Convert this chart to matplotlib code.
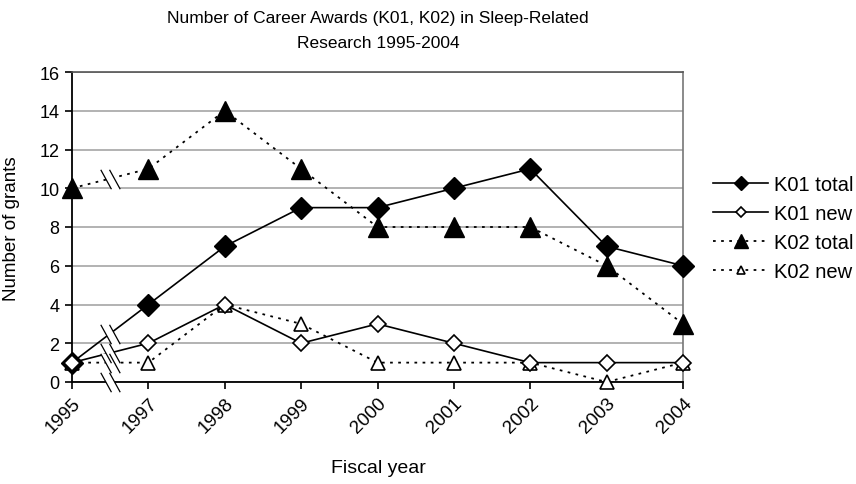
import numpy as np
import matplotlib
matplotlib.use("Agg")
import matplotlib.pyplot as plt
from matplotlib.path import Path

plt.rcParams['font.family'] = ['Liberation Sans', 'DejaVu Sans']

years = ['1995', '1997', '1998', '1999', '2000', '2001', '2002', '2003', '2004']
k01_total = [1, 4, 7, 9, 9, 10, 11, 7, 6]
k01_new = [1, 2, 4, 2, 3, 2, 1, 1, 1]
k02_total = [10, 11, 14, 11, 8, 8, 8, 6, 3]
k02_new = [1, 1, 4, 3, 1, 1, 1, 0, 1]

x = np.arange(len(years))

fig = plt.figure(figsize=(8.56, 4.85), dpi=100)
ax = fig.add_axes([72/856, 1 - 383/485, (683 - 72)/856, (383 - 73)/485])

dot = (0, (1.5, 3))
ax.plot(x, k02_total, linestyle=dot, color='black', lw=1.3, marker='^', ms=14.5,
        mfc='black', mec='black', clip_on=False, zorder=3, label='K02 total')
ax.plot(x, k02_new, linestyle=dot, color='black', lw=1.3, marker='^', ms=9.5,
        mfc='white', mec='black', mew=1.2, clip_on=False, zorder=3, label='K02 new')
ax.plot(x, k01_total, linestyle='-', color='black', lw=1.2, marker='D', ms=11.5,
        mfc='black', mec='black', clip_on=False, zorder=4, label='K01 total')
ax.plot(x, k01_new, linestyle='-', color='black', lw=1.2, marker='D', ms=8.5,
        mfc='white', mec='black', mew=1.2, clip_on=False, zorder=4, label='K01 new')

# break marks between 1995 and 1997 (1996 missing)
slash = Path([(-0.5, 0.5), (0.05, -0.5), (-0.05, 0.5), (0.5, -0.5)],
             [Path.MOVETO, Path.LINETO, Path.MOVETO, Path.LINETO])
gap = Path([(-0.5, 0.5), (0.05, -0.5), (0.5, -0.5), (-0.05, 0.5), (-0.5, 0.5)],
           [Path.MOVETO, Path.LINETO, Path.LINETO, Path.LINETO, Path.CLOSEPOLY])
for s in [k01_total, k01_new, k02_total, k02_new]:
    ym = (s[0] + s[1]) / 2
    ax.plot([0.5], [ym], marker=gap, ms=14, mfc='white', mec='none', ls='none', zorder=5)
    ax.plot([0.5], [ym], marker=slash, ms=14, mec='black', mew=0.9, ls='none', zorder=6)
ax.plot([0.5], [0], marker=gap, ms=14, mfc='white', mec='none', ls='none', zorder=5, clip_on=False)
ax.plot([0.5], [0], marker=slash, ms=14, mec='black', mew=0.9, ls='none', zorder=6, clip_on=False)

ax.set_xlim(0, len(years) - 1)
ax.set_ylim(0, 16)
ax.set_yticks(np.arange(0, 17, 2))
ax.set_xticks(x)
ax.set_xticklabels(years, rotation=45, ha='right', rotation_mode='anchor')
ax.tick_params(labelsize=13, direction='out', length=5, width=1.2, colors='black', pad=4)
ax.tick_params(axis='x', labelsize=13.5)
ax.yaxis.grid(True, color='#a6a6a6', lw=1.2)
ax.set_axisbelow(True)

for side in ['left', 'bottom']:
    ax.spines[side].set_linewidth(1.3)
    ax.spines[side].set_color('black')
ax.spines['top'].set_color('#555555')
ax.spines['top'].set_linewidth(1.2)
ax.spines['right'].set_color('#777777')
ax.spines['right'].set_linewidth(1.2)

fig.text(378/856, 1 - 31/485,
         'Number of Career Awards (K01, K02) in Sleep-Related\nResearch 1995-2004',
         ha='center', va='center', fontsize=12.5, linespacing=1.75)
fig.text(12/856, 1 - 229/485, 'Number of grants', rotation=90, ha='center', va='center',
         fontsize=13.5)
fig.text(378/856, 1 - 469/485, 'Fiscal year', ha='center', va='center', fontsize=14)

h, l = ax.get_legend_handles_labels()
order = [2, 3, 0, 1]
fig.legend([h[i] for i in order], [l[i] for i in order], loc='center left',
           bbox_to_anchor=(703/856, 1 - 229/485), frameon=False, fontsize=14.5,
           handlelength=2.75, handletextpad=0.3, labelspacing=0.5, borderpad=0,
           markerscale=0.65)

fig.savefig('out.png', dpi=100)
